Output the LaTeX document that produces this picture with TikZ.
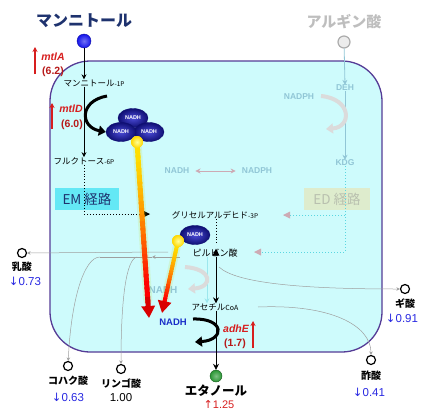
\documentclass[tikz,border=0pt]{standalone}
\usepackage{fontspec}
\setmainfont{Noto Sans CJK JP}
\newfontfamily\lsans{Liberation Sans}
\newfontfamily\djv{DejaVu Sans}
\usetikzlibrary{arrows.meta,calc,shapes.geometric}
\definecolor{cellfill}{RGB}{206,251,252}
\definecolor{cellline}{RGB}{85,60,150}
\definecolor{titleblue}{RGB}{30,50,110}
\definecolor{genered}{RGB}{215,30,30}
\definecolor{valblue}{RGB}{40,40,225}
\definecolor{fadetxt}{RGB}{145,198,214}
\definecolor{fadegray}{RGB}{190,190,190}
\definecolor{emcyan}{RGB}{100,232,245}
\definecolor{edfill}{RGB}{222,236,205}
\definecolor{edtxt}{RGB}{185,192,175}
\definecolor{pinkgray}{RGB}{205,170,180}
\definecolor{dotcyan}{RGB}{90,215,225}
\definecolor{nadhin}{RGB}{75,75,215}
\definecolor{nadhout}{RGB}{15,15,115}
\definecolor{nadhtxt}{RGB}{25,45,200}
\definecolor{ycol}{RGB}{255,225,0}
\definecolor{mblue}{RGB}{20,20,235}
\definecolor{egreen}{RGB}{40,150,50}
\newcommand\gradarrow[3]{%
  \draw[line width=#3+4pt, color=yellow!75!green, opacity=0.15, line cap=round] (#1) -- ($(#1)!0.9!(#2)$);
  \foreach \i in {0,...,23}{
    \pgfmathsetmacro\ta{0.9*\i/24}
    \pgfmathsetmacro\tb{0.9*(\i+1.4)/24}
    \pgfmathtruncatemacro\pc{min(100,100*(\i/21)^1.5)}
    \draw[line width=#3, color=red!\pc!ycol] ($(#1)!\ta!(#2)$) -- ($(#1)!\tb!(#2)$);
  }
  \draw[line width=#3, color=red!85!black, -{Triangle[length=12pt,width=13pt]}] ($(#1)!0.88!(#2)$) -- (#2);
}
\begin{document}
\begin{tikzpicture}[x=1pt,y=-1pt,
  lbl/.style={inner sep=0pt, font=\fontsize{8.5}{9}\selectfont},
  met/.style={inner sep=0pt, font=\fontsize{10}{11}\selectfont\bfseries},
  val/.style={inner sep=0pt, text=valblue, font=\lsans\fontsize{11.5}{12}\selectfont},
  gene/.style={inner sep=0pt, text=genered, font=\lsans\fontsize{10.5}{11}\selectfont\bfseries\itshape},
  genenum/.style={inner sep=0pt, text=genered!85!black, font=\lsans\fontsize{10.5}{11}\selectfont\bfseries},
  genearr/.style={genered, line width=1.2pt, -{Stealth[length=5pt,width=5pt]}},
  metc/.style={circle, draw, line width=1.2pt, minimum size=9pt, inner sep=0pt, fill=white},
  effl/.style={draw=gray!75, line width=0.5pt, -{Stealth[length=3.5pt,width=3.5pt]}},
  plainl/.style={draw=gray!75, line width=0.5pt},
  nadh/.style={ellipse, shade, inner color=nadhin, outer color=nadhout, draw=nadhout, minimum width=30pt, minimum height=19pt, inner sep=0pt, text=white, font=\lsans\fontsize{5.5}{6}\selectfont\bfseries},
  fade/.style={inner sep=0pt, text=fadetxt, font=\lsans\fontsize{8.5}{9}\selectfont\bfseries},
  ydot/.style={circle, shade, inner color=yellow!40!white, outer color=ycol!90!orange, minimum size=12pt, inner sep=0pt},
  mainarr/.style={black, line width=0.8pt, -{Stealth[length=5pt,width=5pt]}},
  fadearr/.style={line width=4pt, color=gray!28, -{Triangle[length=7pt,width=10pt]}}
]
\useasboundingbox (0,0) rectangle (422,412);
% cell
\draw[cellline, fill=cellfill, line width=1.3pt, rounded corners=40pt] (50,61) rectangle (382,352);

% left titles
\node[inner sep=0pt, text=titleblue, font=\fontsize{16}{17}\selectfont\bfseries] (mtitle) at (84,21) {マンニトール};
\node[circle, shade, inner color=mblue!60!white, outer color=mblue, draw=mblue!70!black, minimum size=14pt, inner sep=0pt] (mdot) at (84,41) {};
\node[lbl] (m1p) at (94,83) {マンニトール{\fontsize{6.5}{7}\selectfont -1P}};
\node[lbl] (f6p) at (84,161) {フルクトース{\fontsize{6.5}{7}\selectfont -6P}};
\draw[mainarr] (mdot) -- (mdot |- m1p.north);
\draw[mainarr] (m1p.south -| mdot) -- (f6p.north);

% genes
\coordinate (gA1) at (35,74); \coordinate (gA2) at (35,47);
\draw[genearr] (gA1) -- (gA2);
\node[gene] (mtlA) at (53,57) {mtlA};
\node[genenum] (mtlAn) at (53,72) {(6.2)};
\coordinate (gD1) at (52,129); \coordinate (gD2) at (52,103);
\draw[genearr] (gD1) -- (gD2);
\node[gene] (mtlD) at (71,109) {mtlD};
\node[genenum] (mtlDn) at (72,125) {(6.0)};

% NADH cluster
\node[nadh] (nt) at (133,118) {NADH};
\node[nadh] (nbr) at (149,132) {NADH};
\node[nadh] (nbl) at (121,132) {NADH};
\coordinate (mdS) at (107,96);
\draw[line width=3pt, -{Triangle[length=7pt,width=10pt]}] (mdS) .. controls (79,101) and (80,127) .. (nbl.west);

% EM path
\node[fill=emcyan, minimum width=64pt, minimum height=22pt, inner sep=0pt, text=titleblue, font=\fontsize{13.5}{14}\selectfont] (em) at (87,199) {EM 経路};
\node[lbl] (g3p) at (215,215) {グリセルアルデヒド{\fontsize{6.5}{7}\selectfont -3P}};
\coordinate (emE) at (150,214);
\draw[black, line width=0.9pt, dotted] (f6p.south) |- (emE);
\fill[black] (emE) -- ++(-7,-3.5) -- ++(0,7) -- cycle;

% faded right part
\node[inner sep=0pt, text=fadegray, font=\fontsize{15}{16}\selectfont\bfseries] (atitle) at (344,22) {アルギン酸};
\node[circle, draw=gray!65, fill=gray!15, line width=1.2pt, minimum size=12pt, inner sep=0pt] (adot) at (344,42) {};
\node[fade] (deh) at (345,88) {DEH};
\node[fade] (nadph1) at (299,97) {NADPH};
\node[fade] (kdg) at (345,163) {KDG};
\draw[fadetxt, line width=0.8pt, -{Stealth[length=5pt,width=5pt]}] (adot) -- (deh.north);
\draw[fadetxt, line width=0.8pt, -{Stealth[length=5pt,width=5pt]}] (deh.south) -- (kdg.north);
\coordinate (gcS) at (321,96);
\coordinate (gcE) at (326,129);
\draw[fadearr] (gcS) .. controls (352,99) and (352,127) .. (gcE);
\node[fade] (nadhF) at (177,171) {NADH};
\node[fade] (nadphF) at (257,171) {NADPH};
\draw[pinkgray, line width=0.9pt, {Stealth[length=5pt,width=5pt]}-{Stealth[length=5pt,width=5pt]}] ([xshift=6pt]nadhF.east) -- ([xshift=-6pt]nadphF.west);
\node[fill=edfill, minimum width=66pt, minimum height=22pt, inner sep=0pt, text=edtxt, font=\fontsize{13.5}{14}\selectfont] (ed) at (337,199) {ED 経路};
\coordinate (edC1) at (345,215);
\coordinate (edC2) at (345,252);
\coordinate (edA1) at (283,215);
\coordinate (edA2) at (254,252);
\draw[dotcyan, line width=1pt, dotted] (kdg.south) -- (edC2) -- (edA2);
\draw[dotcyan, line width=1pt, dotted] (edC1) -- (edA1);
\fill[pinkgray] (edA1) -- ++(7,-3.5) -- ++(0,7) -- cycle;
\fill[pinkgray] (edA2) -- ++(7,-3.5) -- ++(0,7) -- cycle;

% pyruvate region
\node[lbl, font=\fontsize{9}{10}\selectfont] (pyr) at (215,253) {ピルビン酸};
\node[lbl] (acoa) at (215,307) {アセチル{\fontsize{7}{8}\selectfont CoA}};
\node[nadh] (n2) at (195,235) {NADH};
\draw[black, line width=0.9pt, dotted] ([xshift=1pt]g3p.south) -- ([xshift=1pt,yshift=4pt]pyr.north);
\fill[black] ([xshift=1pt]pyr.north) -- ++(-3.5,7) -- ++(7,0) -- cycle;
\draw[dotcyan!60!white, line width=0.8pt, -{Stealth[length=5pt,width=5pt]}] ([xshift=-8pt]pyr.south) -- ([xshift=-8pt]acoa.north);
\draw[black, line width=0.9pt, -{Stealth[length=6pt,width=6pt]}] ([xshift=1pt]pyr.south) -- ([xshift=1pt]acoa.north);
\coordinate (pcS) at (185,267);
\coordinate (pcE) at (188,289);
\draw[fadearr] (pcS) .. controls (213,269) and (213,287) .. (pcE);
\node[fade, font=\lsans\fontsize{10}{11}\selectfont\bfseries] (nadhF2) at (163,290) {NADH};

% by-products
\node[metc] (lacC) at (22,253) {};
\node[met] (lac) at (22,267) {乳酸};
\node[val] (lacv) at (25,281) {{\djv ↓}0.73};
\node[metc] (sucC) at (68,366) {};
\node[met] (suc) at (68,381) {コハク酸};
\node[val] (sucv) at (68,397) {{\djv ↓}0.63};
\node[metc] (malC) at (121,369) {};
\node[met] (mal) at (121,384) {リンゴ酸};
\node[inner sep=0pt, font=\lsans\fontsize{11.5}{12}\selectfont] (malv) at (121,398) {1.00};
\node[metc] (forC) at (405,289) {};
\node[met] (for) at (405,304) {ギ酸};
\node[val] (forv) at (402,318) {{\djv ↓}0.91};
\node[metc] (aceC) at (371,360) {};
\node[met] (ace) at (371,376) {酢酸};
\node[val] (acev) at (369,392) {{\djv ↓}0.41};

\coordinate (lacS) at (168,252);
\coordinate (pR) at (180,257);
\coordinate (pM) at (152,257);
\coordinate (pJ2) at (137,257);
\coordinate (pJ1) at (100,257);
\draw[effl] (lacS) -- (lacC);
\draw[effl] (pR) -- (pM);
\draw[plainl] (pM) -- (pJ1);
\draw[effl] (pJ1) .. controls (84,257) and (71,300) .. (sucC);
\draw[effl] (pJ2) .. controls (126,259) and (121,300) .. (malC);
\coordinate (foS) at (219,267);
\draw[effl] (foS) .. controls (236,283) and (300,289) .. (forC);
\coordinate (acS) at (258,307);
\draw[effl] (acS) .. controls (330,304) and (371,325) .. (aceC);

% ethanol
\node[circle, shade, inner color=egreen!60!white, outer color=egreen, draw=egreen!60!black, minimum size=12pt, inner sep=0pt] (edot) at (216,376) {};
\node[inner sep=0pt, font=\fontsize{12.5}{13}\selectfont\bfseries] (eth) at (216,391) {エタノール};
\node[inner sep=0pt, text=genered, font=\lsans\fontsize{11}{12}\selectfont] (ethv) at (219,405) {{\djv ↑}1.25};
\draw[black, line width=0.9pt, -{Stealth[length=6pt,width=6pt]}] ([xshift=1pt]acoa.south) -- (edot.north);
\node[inner sep=0pt, text=nadhtxt, font=\lsans\fontsize{9.5}{10}\selectfont\bfseries] (nadh3) at (173,322) {NADH};
\coordinate (acS1) at (193,319);
\coordinate (acE1) at (195,342);
\draw[line width=3pt, -{Triangle[length=7pt,width=10pt]}] (acS1) .. controls (225,318) and (225,340) .. (acE1);
\node[gene] (adhE) at (236,329) {adhE};
\node[genenum] (adhEn) at (235,344) {(1.7)};
\coordinate (gE1) at (253,348); \coordinate (gE2) at (253,321);
\draw[genearr] (gE1) -- (gE2);

% gradient NADH arrows
\node[ydot] (y1) at (137,142) {};
\node[ydot] (y2) at (178,241) {};
\coordinate (t1) at (149,318);
\coordinate (t2) at (162,313);
\gradarrow{y1}{t1}{5pt}
\gradarrow{y2}{t2}{4pt}
\node[ydot] at (y1) {};
\node[ydot] at (y2) {};
\end{tikzpicture}
\end{document}
